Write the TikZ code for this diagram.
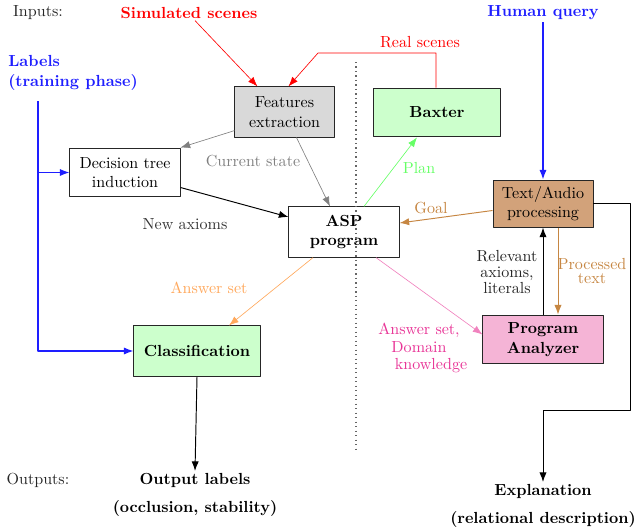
\documentclass[tikz,border=0pt]{standalone}
\usetikzlibrary{calc,arrows.meta}
\definecolor{featgray}{RGB}{217,217,217}
\definecolor{boxgreen}{RGB}{204,255,204}
\definecolor{boxbrown}{RGB}{210,162,122}
\definecolor{boxpink}{RGB}{245,180,214}
\definecolor{goalbrown}{RGB}{198,134,66}
\definecolor{plangreen}{RGB}{102,255,102}
\definecolor{ansorange}{RGB}{255,168,92}
\definecolor{linkpink}{RGB}{240,130,190}
\definecolor{textpink}{RGB}{232,52,150}
\definecolor{qblue}{RGB}{30,30,255}
\tikzset{
  box/.style={draw=black!85,semithick,align=center,inner sep=2pt},
  lbl/.style={align=center,inner sep=1pt},
}
\begin{document}
\begin{tikzpicture}[>={Latex[length=6pt,width=4.5pt]},line join=round,x=0.0219cm,y=-0.0219cm]
		\useasboundingbox (0,0) rectangle (636,531);
		% inputs
		\node[lbl,text=black!85] (inputs) at (38,13) {Inputs:};
		\node[lbl,text=red] (sim) at (189,13) {\bfseries Simulated scenes};
		\node[lbl,text=qblue] (human) at (543,13) {\bfseries Human query};
		\node[lbl,text=qblue,align=left] (labels) at (73,73) {\bfseries Labels\\\bfseries(training phase)};
		% boxes
		\node[box,fill=featgray,minimum width=2.17cm,minimum height=1.1cm] (feat) at (284.5,112) {Features\\extraction};
		\node[box,fill=boxgreen,minimum width=2.76cm,minimum height=1.07cm] (baxter) at (437,112.5) {\bfseries Baxter};
		\node[box,fill=white,minimum width=2.41cm,minimum height=1.07cm] (dtree) at (125,172.5) {Decision tree\\induction};
		\node[box,fill=white,minimum width=2.41cm,minimum height=1.1cm] (asp) at (344,232) {\bfseries ASP\\\bfseries program};
		\node[box,fill=boxbrown,minimum width=2.19cm,minimum height=1.03cm] (text) at (543,203.5) {Text/Audio\\processing};
		\node[box,fill=boxpink,minimum width=2.63cm,minimum height=1.07cm] (prog) at (543,339.5) {\bfseries Program\\\bfseries Analyzer};
		\node[box,fill=boxgreen,minimum width=2.76cm,minimum height=1.1cm] (class) at (197,351) {\bfseries Classification};
		% outputs
		\node[lbl,text=black!85] (outputs) at (38,480) {Outputs:};
		\node[lbl,anchor=north] (outlab) at (195,471) {\bfseries Output labels\\[5.5pt]\bfseries(occlusion, stability)};
		\node[lbl,anchor=north] (expl) at (543,482) {\bfseries Explanation\\[5.5pt]\bfseries(relational description)};
		% divider
		\draw[dotted,thick,black!60] (356,62)--(356,450);
		\coordinate (lab) at (38,101);
		\coordinate (rs1) at (436,53);
		\coordinate (rs2) at (318,53);
		\coordinate (turn) at (630,410);
		% connectors
		\draw[->,red] ($(sim.south)+(6,0)$)--($(feat.north)+(-27,0)$);
		\draw[->,red] ($(baxter.north)+(-1,0)$)--(rs1)--(rs2)--($(feat.north)+(4,0)$);
		\draw[->,gray] ($(feat.south west)+(0,-7)$)--(dtree.north east);
		\draw[->,gray] ($(feat.south)+(12,0)$)--($(asp.north)+(-14,0)$);
		\draw[->,semithick] ($(dtree.east)+(0,15)$)--($(asp.west)+(0,-15)$);
		\draw[->,plangreen] ($(asp.north)+(20,0)$)--($(baxter.south)+(-20,0)$);
		\draw[->,goalbrown,semithick] ($(text.west)+(0,7)$)--($(asp.east)+(0,-9)$);
		\draw[->,qblue,thick] (human.south)--(text.north);
		\draw[->,semithick] (prog.north)--(text.south);
		\draw[->,goalbrown,semithick] ($(text.south)+(15,0)$)--($(prog.north)+(15,0)$);
		\draw[->,linkpink] ($(asp.south)+(32,0)$)--($(prog.west)+(0,-5)$);
		\draw[->,ansorange] ($(asp.south)+(-31,0)$)--($(class.north)+(32,0)$);
		\draw[->,qblue,thick] (lab)|-(class.west);
		\draw[->,qblue,thick] (lab|-dtree.west)--(dtree.west);
		\draw[->,semithick] (class.south)--(outlab.north);
		\draw[->,semithick] (text.east)-|(turn)-|(expl.north);
		% connector labels
		\node[lbl,text=red] (lrs) at (420,42) {Real scenes};
		\node[lbl,text=gray] (lcur) at (253,161) {Current state};
		\node[lbl,text=black!80] (lnew) at (185,224) {New axioms};
		\node[lbl,text=plangreen] (lplan) at (419,168) {Plan};
		\node[lbl,text=goalbrown] (lgoal) at (431,208) {Goal};
		\node[lbl,text=ansorange] (lans) at (209,288) {Answer set};
		\node[lbl,text=black!85] (lrel) at (507,272) {Relevant\\[-2pt]axioms,\\[-2pt]literals};
		\node[lbl,text=goalbrown] (lproc) at (592,271) {Processed\\[-3pt]text};
		\node[lbl,text=textpink] (ldom) at (419,348) {Answer set,\\[-1pt]Domain\\[-1pt]\hspace*{15pt}knowledge};
\end{tikzpicture}
\end{document}
